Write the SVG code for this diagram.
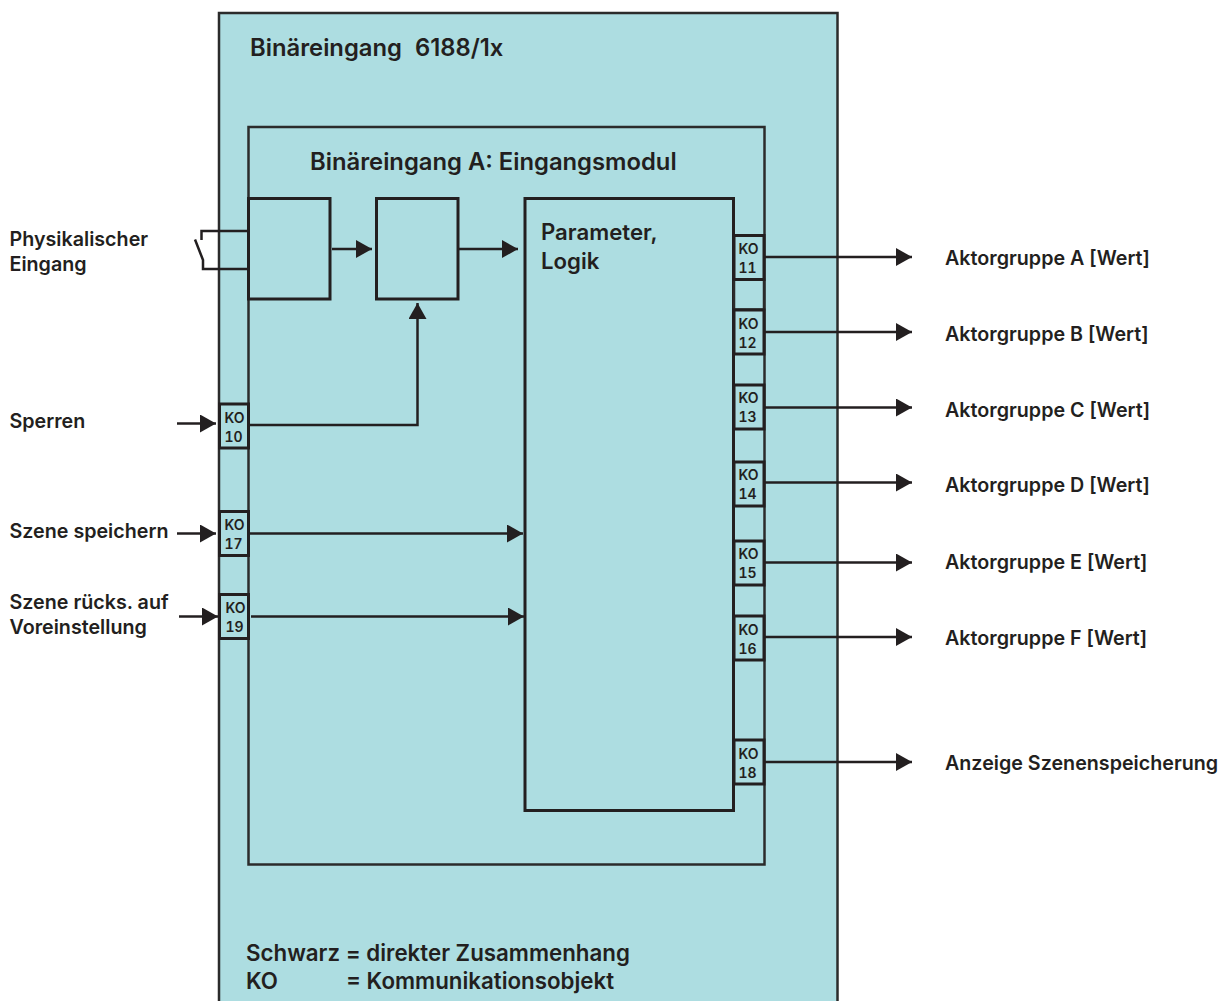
<svg xmlns="http://www.w3.org/2000/svg" width="1222" height="1001" viewBox="0 0 1222 1001">
<style>
text{font-family:"Inter","Liberation Sans",sans-serif;font-weight:600;fill:#231f20}
.t{font-size:19.7px}.h{font-size:22.3px}.H{font-size:23.8px}.p{font-size:22.2px}.k{font-size:14px;text-anchor:middle;font-variant-numeric:tabular-nums}
.b{fill:#addde1;stroke:#231f20;stroke-width:3}
.m{fill:#addde1;stroke:#2b2b2b;stroke-width:2.5}
.l{fill:none;stroke:#231f20;stroke-width:2.5}
</style>
<defs><marker id="a" markerUnits="userSpaceOnUse" markerWidth="17" markerHeight="18" refX="16" refY="9" orient="auto"><path d="M0 0L16 9L0 18Z" fill="#231f20"/></marker></defs>
<rect width="1222" height="1001" fill="#fff"/>
<g id="outer"><path class="m" d="M219 1003V13H837.500V1003"/><text class="H" x="250" y="56">Binäreingang</text><text class="H" x="415" y="56">6188/1x</text></g>
<g id="module"><rect class="m" x="248.500" y="127" width="516" height="737.500"/><text class="H" x="310" y="170">Binäreingang A: Eingangsmodul</text></g>
<g id="box1"><rect class="b" x="248.500" y="198.500" width="81.500" height="100.500"/></g>
<g id="box2"><rect class="b" x="376.500" y="198.500" width="81.500" height="100.500"/></g>
<g id="logic"><rect class="b" x="525" y="198.500" width="208.500" height="612"/><text class="p" x="541" y="240">Parameter,</text><text class="p" x="541" y="269">Logik</text></g>
<g id="ko10"><rect class="b" x="219.500" y="404" width="29" height="44"/><text class="k" x="234.500" y="423">KO</text><text class="k" x="233.500" y="442">10</text></g>
<g id="ko17"><rect class="b" x="219.500" y="511.500" width="29" height="44"/><text class="k" x="234.500" y="530">KO</text><text class="k" x="233.500" y="549">17</text></g>
<g id="ko19"><rect class="b" x="219.500" y="594.500" width="29" height="44"/><text class="k" x="235.500" y="613">KO</text><text class="k" x="234.500" y="632">19</text></g>
<g id="ko-filler"><rect class="m" x="734" y="279.500" width="30" height="30"/></g>
<g id="ko11"><rect class="b" x="734" y="235.500" width="30" height="44"/><text class="k" x="748.500" y="254">KO</text><text class="k" x="747.500" y="273">11</text></g>
<g id="ko12"><rect class="b" x="734" y="310" width="30" height="44"/><text class="k" x="748.500" y="329">KO</text><text class="k" x="747.500" y="348">12</text></g>
<g id="ko13"><rect class="b" x="734" y="385" width="30" height="44"/><text class="k" x="748.500" y="403">KO</text><text class="k" x="747.500" y="422">13</text></g>
<g id="ko14"><rect class="b" x="734" y="462" width="30" height="44"/><text class="k" x="748.500" y="480">KO</text><text class="k" x="747.500" y="499">14</text></g>
<g id="ko15"><rect class="b" x="734" y="541" width="30" height="44"/><text class="k" x="748.500" y="559">KO</text><text class="k" x="747.500" y="578">15</text></g>
<g id="ko16"><rect class="b" x="734" y="616" width="30" height="44"/><text class="k" x="748.500" y="635">KO</text><text class="k" x="747.500" y="654">16</text></g>
<g id="ko18"><rect class="b" x="734" y="740" width="30" height="44"/><text class="k" x="748.500" y="759">KO</text><text class="k" x="747.500" y="778">18</text></g>
<g id="connectors" class="l">
<path class="l" d="M201.500 240V231H248M195 239.500L203 260V269H248"/>
<path class="l" marker-end="url(#a)" d="M332 249H372"/>
<path class="l" marker-end="url(#a)" d="M459 249H518"/>
<path class="l" marker-end="url(#a)" d="M249 425H417.500V303"/>
<path class="l" marker-end="url(#a)" d="M177 423.500H216"/>
<path class="l" marker-end="url(#a)" d="M177 533.500H216"/>
<path class="l" marker-end="url(#a)" d="M179 616.500H218"/>
<path class="l" marker-end="url(#a)" d="M250 533.500H523"/>
<path class="l" marker-end="url(#a)" d="M251 616.500H524"/>
<path class="l" marker-end="url(#a)" d="M765 257H912"/>
<path class="l" marker-end="url(#a)" d="M765 332H912"/>
<path class="l" marker-end="url(#a)" d="M765 407.500H912"/>
<path class="l" marker-end="url(#a)" d="M765 482.500H912"/>
<path class="l" marker-end="url(#a)" d="M765 562.500H912"/>
<path class="l" marker-end="url(#a)" d="M765 637H912"/>
<path class="l" marker-end="url(#a)" d="M765 762H912"/>
</g>
<g id="labels">
<text class="t" x="9.500" y="246">Physikalischer</text><text class="t" x="9.500" y="271">Eingang</text>
<text class="t" x="9.500" y="428">Sperren</text>
<text class="t" x="9.500" y="538">Szene speichern</text>
<text class="t" x="9.500" y="609">Szene rücks. auf</text><text class="t" x="9.500" y="634">Voreinstellung</text>
<text class="t" x="945" y="265">Aktorgruppe A [Wert]</text>
<text class="t" x="945" y="341">Aktorgruppe B [Wert]</text>
<text class="t" x="945" y="417">Aktorgruppe C [Wert]</text>
<text class="t" x="945" y="492">Aktorgruppe D [Wert]</text>
<text class="t" x="945" y="569">Aktorgruppe E [Wert]</text>
<text class="t" x="945" y="645">Aktorgruppe F [Wert]</text>
<text class="t" x="945" y="770">Anzeige Szenenspeicherung</text>
<text class="h" x="246" y="961">Schwarz = direkter Zusammenhang</text>
<text class="h" x="246" y="989">KO</text><text class="h" x="346" y="989">= Kommunikationsobjekt</text>
</g>
</svg>
